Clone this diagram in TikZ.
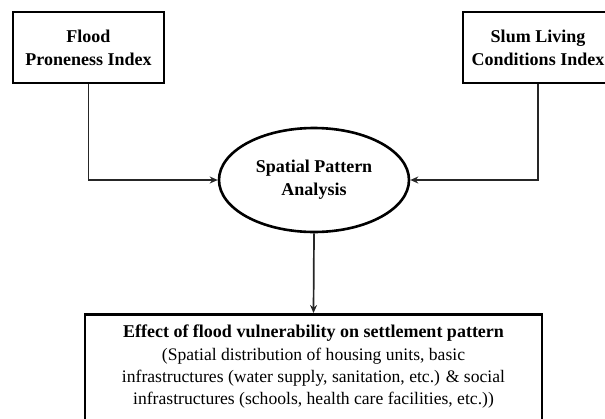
\documentclass[tikz,border=0pt]{standalone}
\usepackage{fontspec}
\setmainfont{Liberation Serif}
\usetikzlibrary{arrows.meta,shapes.geometric}
\tikzset{
  boxnode/.style={draw=black, line width=2.8pt, rectangle, inner sep=0pt},
  ellnode/.style={draw=black, line width=2.6pt, ellipse, inner sep=0pt, minimum width=190pt, minimum height=104pt},
  conn/.style={draw=black!85, line width=1.7pt, -{Stealth[length=8pt,width=7pt]}},
  lbl/.style={font=\fontsize{18}{23}\selectfont\bfseries, align=center, inner sep=0pt},
  body/.style={font=\fontsize{17.6}{22}\selectfont, align=center, inner sep=0pt}
}
\begin{document}
\begin{tikzpicture}[x=1pt,y=-1pt]
\useasboundingbox (0,0) rectangle (605,418);
\clip (0,0) rectangle (605,418);
\node[boxnode, minimum width=151pt, minimum height=71pt] (flood) at (88.5,47.5) {};
\node[lbl] (floodt) at (flood.center) {Flood\\Proneness Index};
\node[boxnode, minimum width=150pt, minimum height=71pt] (slum) at (538,47.5) {};
\node[lbl] (slumt) at (slum.center) {Slum Living\\Conditions Index};
\node[ellnode] (spa) at (314,180) {};
\node[lbl] (spat) at (spa.center) {Spatial Pattern\\Analysis};
\node[boxnode, minimum width=457pt, minimum height=140pt, anchor=north] (eff) at (313.5,313) {};
\node[lbl, anchor=north] (efft) at ([yshift=-12pt]eff.north) {Effect of flood vulnerability on settlement pattern};
\node[body, anchor=north] (effb) at ([yshift=-6pt]efft.south) {(Spatial distribution of housing units, basic\\infrastructures (water supply, sanitation, etc.) \& social\\infrastructures (schools, health care facilities, etc.))};
\draw[conn] (flood.south) |- (spa.west);
\draw[conn] (slum.south) |- (spa.east);
\draw[conn] (spa.south) -- (eff.north);
\end{tikzpicture}
\end{document}
